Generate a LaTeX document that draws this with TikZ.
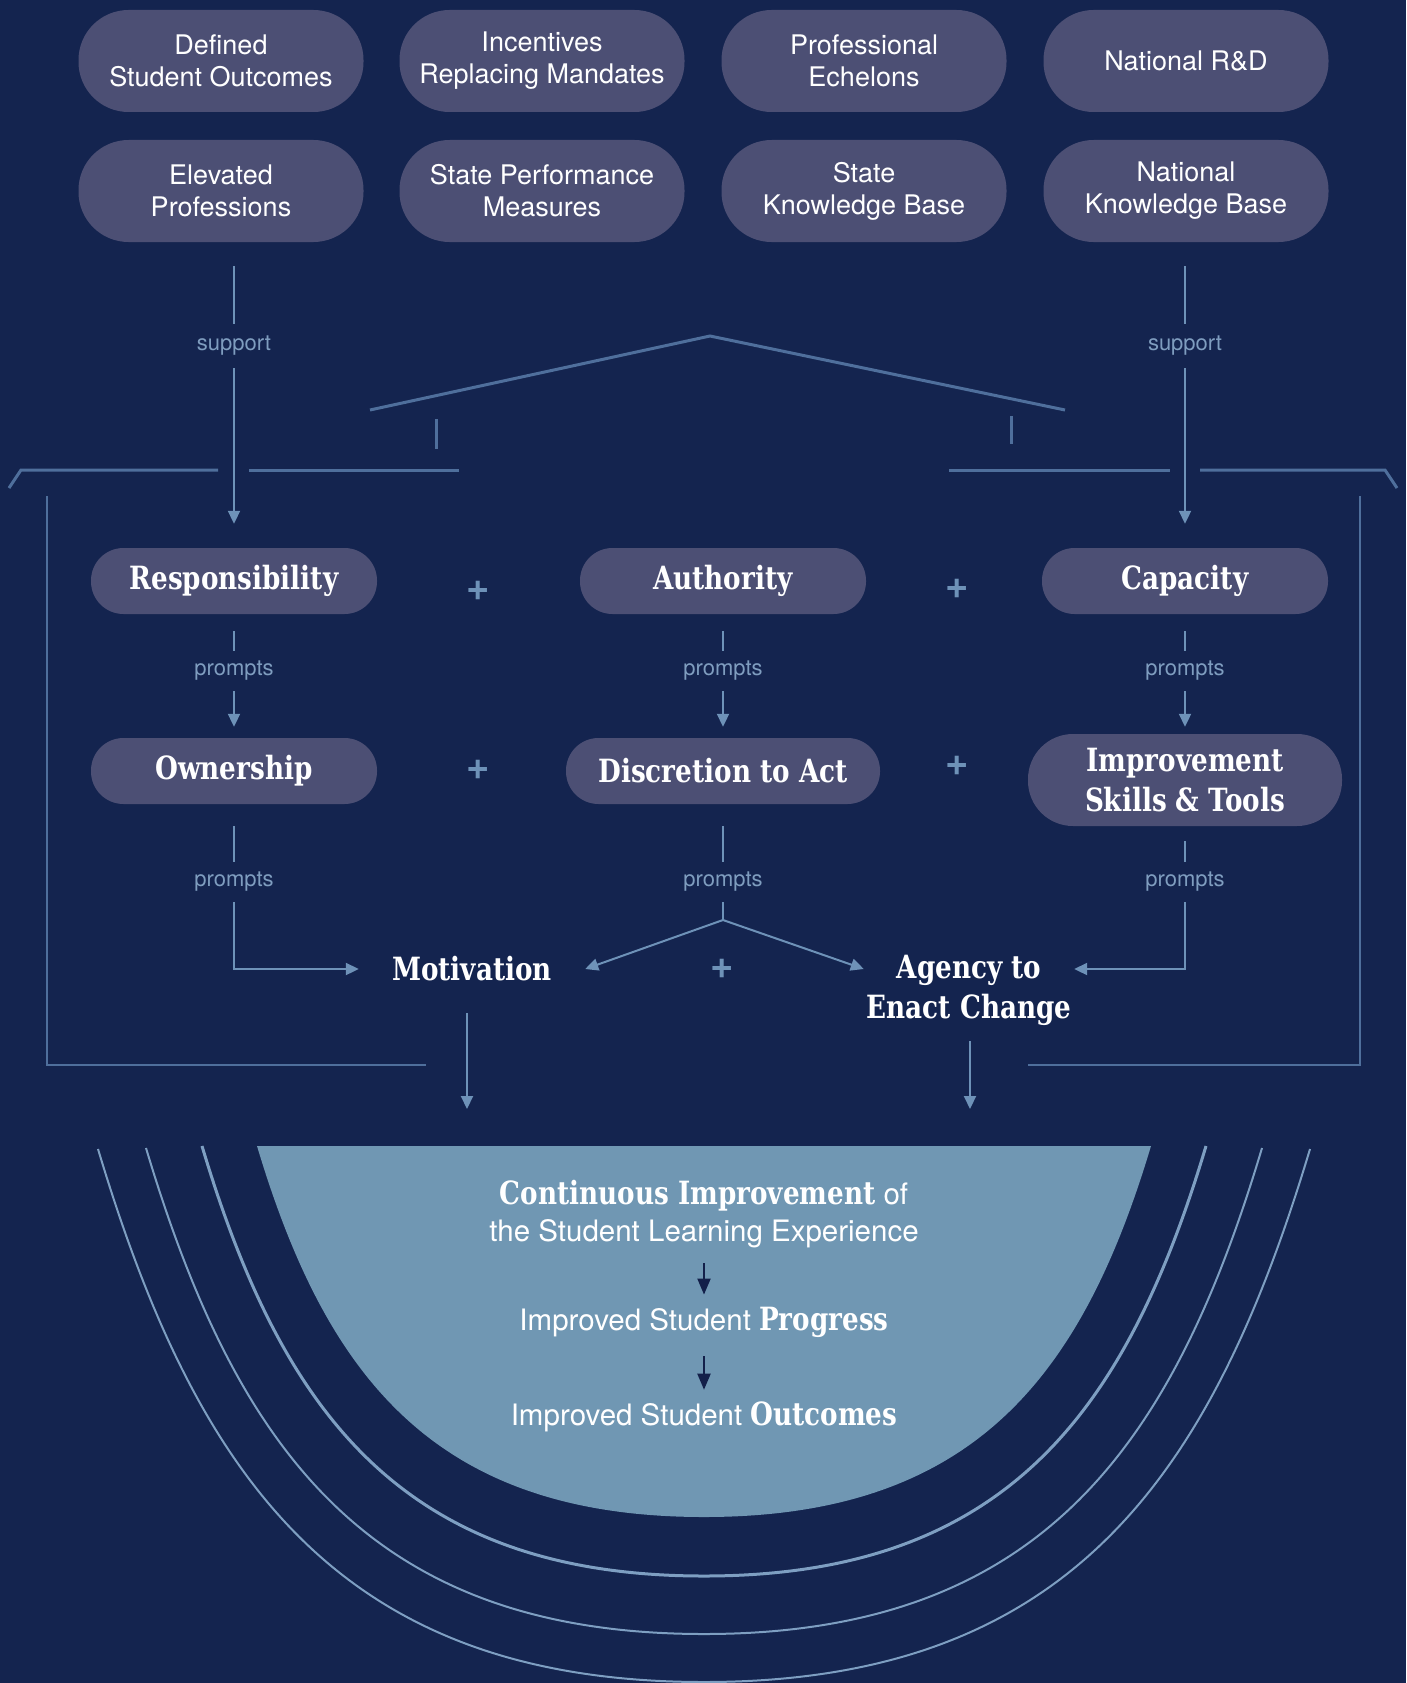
\documentclass[tikz,border=0pt]{standalone}
\usepackage{fontspec}
\setmainfont{TeX Gyre Heros}
\newfontfamily\slab{DejaVu Serif}[FakeStretch=0.82]
\usetikzlibrary{arrows.meta}
\definecolor{bgnavy}{HTML}{14244F}
\definecolor{pillc}{HTML}{4C4F74}
\definecolor{linec}{HTML}{6E92B8}
\definecolor{deco}{HTML}{4F6F9C}
\definecolor{lblc}{HTML}{7F9DBF}
\definecolor{bowlc}{HTML}{7097B3}
\definecolor{arcc}{HTML}{7E9FC2}
\definecolor{darknavy}{HTML}{13204A}
\newcommand{\bslab}[1]{{\slab\bfseries\fontsize{32}{37}\selectfont #1}}
\begin{document}
\begin{tikzpicture}[x=1pt,y=-1pt,
  toppill/.style={fill=pillc, rounded corners=50pt, minimum width=285pt, minimum height=102pt,
    text=white, align=center, inner sep=0pt, font=\fontsize{27}{32}\selectfont},
  midpill/.style={fill=pillc, rounded corners=32.5pt, minimum height=66pt, text=white,
    align=center, inner sep=0pt, font=\slab\bfseries\fontsize{32}{40}\selectfont},
  lbl/.style={text=lblc, inner sep=0pt, minimum height=40pt, font=\fontsize{22}{24}\selectfont},
  conn/.style={draw=linec, line width=2pt},
  arr/.style={conn, -{Triangle[width=12pt,length=13pt]}},
  plussign/.style={text=linec, inner sep=0pt, font=\bfseries\fontsize{40}{40}\selectfont},
  slabtxt/.style={text=white, align=center, inner sep=0pt, font=\slab\bfseries\fontsize{32}{40}\selectfont},
  decoline/.style={draw=deco, line width=3pt},
  bowltxt/.style={text=white, align=center, inner sep=0pt, font=\fontsize{29.5}{37}\selectfont},
  darr/.style={draw=darknavy, line width=2pt, -{Triangle[width=13pt,length=16pt]}},
  arcline/.style={draw=arcc, line width=2pt}
]
\useasboundingbox (0,0) rectangle (1406,1683);
\fill[bgnavy] (0,0) rectangle (1406,1683);

% top pills
\node[toppill] (dso) at (221,61) {Defined\\Student Outcomes};
\node[toppill] (irm) at (542,61) {Incentives\\Replacing Mandates};
\node[toppill] (pe)  at (864,61) {Professional\\Echelons};
\node[toppill] (nrd) at (1186,61) {National R\&D};
\node[toppill] (ep)  at (221,191) {Elevated\\Professions};
\node[toppill] (spm) at (542,191) {State Performance\\Measures};
\node[toppill] (skb) at (864,191) {State\\Knowledge Base};
\node[toppill] (nkb) at (1186,191) {National\\Knowledge Base};

% decorative roof and brackets
\draw[decoline] (370,410) -- (710,336) -- (1065,410);
\draw[decoline] (436,419) -- (436,449);
\draw[decoline] (1011,416) -- (1011,444);
\draw[decoline] (9,488) -- (21,470) -- (218,470);
\draw[decoline] (249,470) -- (459,470);
\draw[decoline] (949,470) -- (1170,470);
\draw[decoline] (1200,470) -- (1385,470) -- (1397,488);
\draw[decoline,line width=2.5pt] (47,496) -- (47,1065) -- (426,1065);
\draw[decoline,line width=2.5pt] (1028,1065) -- (1360,1065) -- (1360,496);

% middle pills
\node[midpill, minimum width=286pt] (resp) at (234,581) {Responsibility};
\node[midpill, minimum width=286pt] (auth) at (723,581) {Authority};
\node[midpill, minimum width=286pt] (cap)  at (1185,581) {Capacity};
\node[midpill, minimum width=286pt] (own)  at (234,771) {Ownership};
\node[midpill, minimum width=314pt] (disc) at (723,771) {Discretion to Act};
\node[midpill, minimum width=314pt, minimum height=92pt, rounded corners=45pt] (imp) at (1185,780) {Improvement\\Skills \& Tools};

% plus signs
\node[plussign] (pl1) at (478,591) {+};
\node[plussign] (pl2) at (957,589) {+};
\node[plussign] (pl3) at (478,770) {+};
\node[plussign] (pl4) at (957,766) {+};
\node[plussign] (pl5) at (722,969) {+};

% support
\node[lbl, minimum height=44pt] (sup1) at (234,346) {support};
\node[lbl, minimum height=44pt] (sup2) at (1185,346) {support};
\coordinate (sup1top) at (234,266);
\coordinate (sup2top) at (1185,266);
\draw[conn] (sup1top) -- (sup1.north);
\draw[arr, shorten >=24pt] (sup1.south) -- (resp.north);
\draw[conn] (sup2top) -- (sup2.north);
\draw[arr, shorten >=24pt] (sup2.south) -- (cap.north);

% prompts, first row
\node[lbl] (p1) at (234,671) {prompts};
\node[lbl] (p2) at (723,671) {prompts};
\node[lbl] (p3) at (1185,671) {prompts};
\draw[conn, shorten <=17pt] (resp.south) -- (p1.north);
\draw[conn, shorten <=17pt] (auth.south) -- (p2.north);
\draw[conn, shorten <=17pt] (cap.south) -- (p3.north);
\draw[arr, shorten >=11pt] (p1.south) -- (own.north);
\draw[arr, shorten >=11pt] (p2.south) -- (disc.north);
\draw[arr, shorten >=7pt] (p3.south) -- (imp.north);

% outcomes
\node[slabtxt, minimum width=226pt, minimum height=50pt] (mot) at (472,969) {Motivation};
\node[slabtxt, minimum width=210pt] (ag) at (969,990) {Agency to\\Enact Change};

% prompts, second row
\node[lbl] (p4) at (234,882) {prompts};
\node[lbl] (p5) at (723,882) {prompts};
\node[lbl] (p6) at (1185,882) {prompts};
\draw[conn, shorten <=22pt] (own.south) -- (p4.north);
\draw[conn, shorten <=22pt] (disc.south) -- (p5.north);
\draw[conn, shorten <=15pt] (imp.south) -- (p6.north);
\draw[arr] (p4.south) |- (mot.west);
\draw[arr] (p6.south) |- (ag.east |- mot.center);
\coordinate (fork) at (723,920);
\draw[conn] (p5.south) -- (fork);
\draw[arr] (fork) -- (mot.east);
\draw[arr] (fork) -- (ag.west |- mot.center);

% down arrows into the bowl
\coordinate (motin) at (467,1109);
\coordinate (agin) at (970,1109);
\draw[arr, shorten <=19pt] (mot.south -| motin) -- (motin);
\draw[arr, shorten <=16pt] (ag.south -| agin) -- (agin);

% arcs
\draw[arcline, line width=3pt] (202,1146) .. controls (282,1413) and (403,1576) .. (704,1576)
  .. controls (1005,1576) and (1126,1413) .. (1206,1146);
\draw[arcline] (146,1148) .. controls (236,1449) and (369,1634) .. (704,1634)
  .. controls (1039,1634) and (1172,1449) .. (1262,1148);
\draw[arcline] (98,1149) .. controls (197,1479) and (340,1682) .. (704,1682)
  .. controls (1068,1682) and (1211,1479) .. (1310,1149);

% bowl
\fill[bowlc] (257,1146) .. controls (326,1376) and (434,1517) .. (704,1517)
  .. controls (974,1517) and (1082,1376) .. (1151,1146) -- cycle;

\node[bowltxt] (ci) at (704,1214) {\bslab{Continuous Improvement} of\\the Student Learning Experience};
\node[bowltxt] (prog) at (704,1322) {Improved Student \bslab{Progress}};
\node[bowltxt] (outc) at (704,1417) {Improved Student \bslab{Outcomes}};
\draw[darr, shorten <=15pt, shorten >=12pt] (ci.south) -- (prog.north);
\draw[darr, shorten <=19pt, shorten >=12pt] (prog.south) -- (outc.north);
\end{tikzpicture}
\end{document}
